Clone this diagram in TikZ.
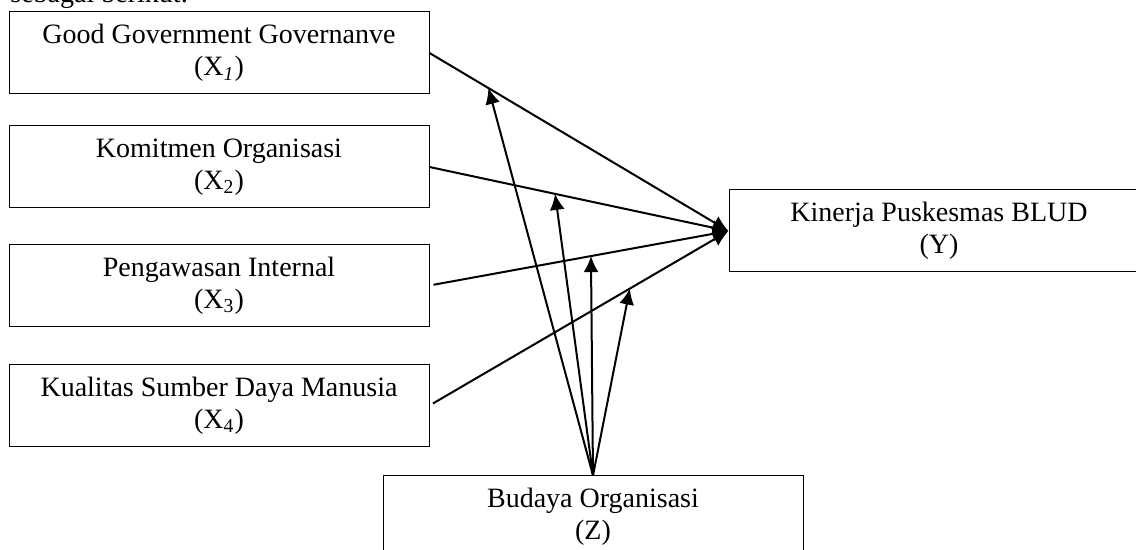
\documentclass[tikz,border=0pt]{standalone}
\usepackage{fontspec}
\setmainfont{Liberation Serif}
\usetikzlibrary{arrows.meta,calc}
\tikzstyle{box}=[draw,line width=0.5pt,minimum width=210pt,minimum height=41pt,inner sep=0pt,align=center,font=\fontsize{14}{16}\selectfont]
\tikzstyle{edge} = [draw,line width=1pt,-{Latex[length=8pt,width=7.5pt]}]
\tikzstyle{lead} = [font=\fontsize{14}{16}\selectfont]

\begin{document}
\begin{tikzpicture}[x=0.5pt,y=-0.5pt]
				\useasboundingbox (0,0) rectangle (1136,550);
				\node[lead,anchor=base west,inner sep=0pt] (intro) at (10,3) {sebagai berikut:};

				% First we draw the variables
				\foreach \pos/\name/\txt in {{(219,53)/x1/{Good Government Governanve\\(X\textsubscript{\textit{1}})}},
										{(219,167)/x2/{Komitmen Organisasi\\(X\textsubscript{2})}},
										{(219,285.5)/x3/{Pengawasan Internal\\(X\textsubscript{3})}},
										{(219,405.5)/x4/{Kualitas Sumber Daya Manusia\\(X\textsubscript{4})}},
										{(939,231)/y/{Kinerja Puskesmas BLUD\\(Y)}},
										{(593,517)/z/{Budaya Organisasi\\(Z)}}}
				\node[box] (\name) at \pos {\txt};

				% Direct effects on Y
				\foreach \source in {x1,x2}
				\path[edge] (\source.east) -- (y.west);
				\foreach \source in {x3,x4}
				\path[edge,shorten <=2pt] (\source.east) -- (y.west);

				% Moderation by Z
				\foreach \source/\t/\m in {x1/0.197/m1, x2/0.42/m2, x3/0.54/m3, x4/0.67/m4}
				\coordinate (\m) at ($(\source.east)!\t!(y.west)$);
				\foreach \dest in {m1,m2,m3,m4}
				\path[edge] (z.north) -- (\dest);

			\end{tikzpicture}
\end{document}
